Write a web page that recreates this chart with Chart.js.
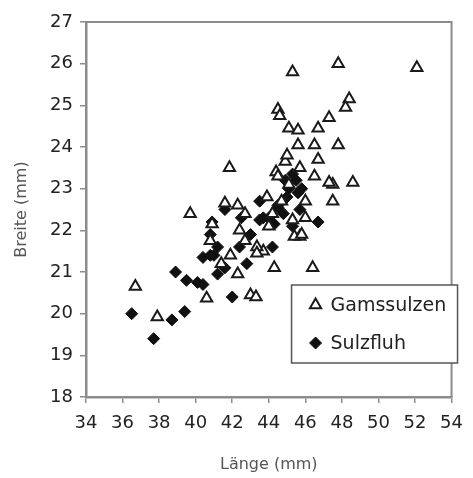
<!DOCTYPE html>
<html>
<head>
<meta charset="utf-8">
<script src="https://cdn.jsdelivr.net/npm/chart.js@4/dist/chart.umd.min.js"></script>
<style>
  html, body { margin: 0; padding: 0; background: #fff; }
  #wrap { width: 473px; height: 478px; }
</style>
</head>
<body>
<div id="wrap"><canvas id="chart"></canvas></div>
<script>
/* ── Data ── */
const gamsX = [52.1, 47.8, 45.3, 44.5, 44.6, 48.4, 48.2, 47.3, 45.1, 45.6, 46.7, 45.6, 46.5, 47.8,
  44.9, 46.7, 45.7, 44.4, 48.6, 47.5, 47.5, 46.5, 47.3, 44.5, 45.1, 44.7, 46.0, 45.3, 45.7, 45.4,
  44.2, 43.7, 46.4, 44.3, 41.85, 39.7, 36.7, 37.9, 40.6, 43.0, 43.3, 41.6, 42.3, 42.7, 40.9, 40.8,
  42.4, 42.7, 43.35, 41.4, 42.3, 41.9, 43.35, 45.8, 46.0, 44.0, 43.9, 45.0];
const gamsY = [25.9, 26.0, 25.8, 24.9, 24.75, 25.15, 24.95, 24.7, 24.45, 24.4, 24.45, 24.05, 24.05, 24.05,
  23.65, 23.7, 23.5, 23.4, 23.15, 23.1, 22.7, 23.3, 23.15, 23.3, 23.1, 22.7, 22.7, 22.25, 21.85, 21.85,
  22.4, 21.5, 21.1, 21.1, 23.5, 22.4, 20.65, 19.92, 20.37, 20.45, 20.4, 22.65, 22.6, 22.4, 22.15, 21.75,
  22.0, 21.75, 21.6, 21.2, 20.95, 21.4, 21.45, 21.9, 22.3, 22.1, 22.8, 23.8];

const sulzX = [36.5, 37.7, 38.7, 39.4, 38.9, 39.5, 40.1, 40.4, 42.0, 40.4, 40.8, 41.0, 41.2, 41.6,
  42.8, 40.9, 40.8, 41.6, 43.5, 43.5, 42.4, 46.7, 44.2, 44.5, 45.7, 43.7, 44.0, 45.3, 45.5, 45.1,
  44.8, 45.3, 44.5, 42.5, 43.0, 41.2, 45.0, 45.6, 44.9, 45.8, 44.3];
const sulzY = [20.0, 19.4, 19.85, 20.05, 21.0, 20.8, 20.75, 20.7, 20.4, 21.35, 21.4, 21.4, 20.95, 21.1,
  21.2, 22.2, 21.9, 22.5, 22.7, 22.25, 21.6, 22.2, 21.6, 22.55, 22.5, 22.3, 22.3, 23.35, 23.2, 23.0,
  22.4, 22.1, 22.6, 22.3, 21.9, 21.6, 22.8, 22.9, 23.2, 23.0, 22.15];

const seriesNames = ['Gamssulzen', 'Sulzfluh'];
const xTitle = 'Länge (mm)';
const yTitle = 'Breite (mm)';

const toPts = (xs, ys) => xs.map((x, i) => ({ x, y: ys[i] }));

/* ── Styles ── */
const AXIS_GREY = '#8c8c8c';
const FONT = 'DejaVu Sans';

/* ── Frame: top + right border of plot area ── */
const framePlugin = {
  id: 'frame',
  beforeDatasetsDraw(chart) {
    const { ctx, chartArea: a } = chart;
    ctx.save();
    ctx.strokeStyle = AXIS_GREY;
    ctx.lineWidth = 2;
    ctx.beginPath();
    ctx.moveTo(a.left, a.top);
    ctx.lineTo(a.right, a.top);
    ctx.lineTo(a.right, a.bottom);
    ctx.stroke();
    ctx.restore();
  }
};

/* ── Boxed legend inside the plot, lower right ── */
const boxLegendPlugin = {
  id: 'boxLegend',
  afterDatasetsDraw(chart) {
    const { ctx, chartArea: a } = chart;
    const right = a.right + 6, left = right - 166;
    const top = a.top + 263, bottom = top + 78;
    ctx.save();
    ctx.fillStyle = '#fff';
    ctx.fillRect(left, top, right - left, bottom - top);
    ctx.strokeStyle = '#555';
    ctx.lineWidth = 1.5;
    ctx.strokeRect(left, top, right - left, bottom - top);
    chart.data.datasets.forEach((ds, i) => {
      const y = top + 20 + i * 38;
      ctx.fillStyle = ds.backgroundColor;
      ctx.strokeStyle = ds.borderColor;
      ctx.lineWidth = ds.borderWidth;
      Chart.helpers.drawPoint(ctx, {
        pointStyle: ds.pointStyle, radius: ds.pointRadius, borderWidth: ds.borderWidth, rotation: 0
      }, left + 24, y);
      ctx.fillStyle = '#222';
      ctx.font = `19px "${FONT}"`;
      ctx.textBaseline = 'middle';
      ctx.textAlign = 'left';
      ctx.fillText(ds.label, left + 39, y + 1);
    });
    ctx.restore();
  }
};

new Chart(document.getElementById('chart'), {
  type: 'scatter',
  data: {
    datasets: [
      {
        label: seriesNames[0], data: toPts(gamsX, gamsY),
        pointStyle: 'triangle', pointRadius: 6.5, borderWidth: 2,
        backgroundColor: '#fff', borderColor: '#1a1a1a'
      },
      {
        label: seriesNames[1], data: toPts(sulzX, sulzY),
        pointStyle: 'rectRot', pointRadius: 6, borderWidth: 1,
        backgroundColor: '#111', borderColor: '#111'
      }
    ]
  },
  options: {
    responsive: true, maintainAspectRatio: false, animation: false,
    layout: { padding: { top: 22, right: 15, left: 0, bottom: 0 } },
    plugins: { legend: { display: false }, tooltip: { enabled: false } },
    scales: {
      x: {
        type: 'linear', min: 34, max: 54,
        afterFit: s => { s.height = 81; },
        ticks: { stepSize: 2, color: '#222', font: { family: FONT, size: 18 }, padding: 10 },
        grid: { drawOnChartArea: false, drawTicks: true, tickLength: 6, color: AXIS_GREY, lineWidth: 1.5 },
        border: { color: AXIS_GREY, width: 2.5 },
        title: { display: true, text: xTitle, color: '#555', font: { family: FONT, size: 16 }, padding: { top: 4 } }
      },
      y: {
        type: 'linear', min: 18, max: 27,
        afterFit: s => { s.width = 86; },
        ticks: { stepSize: 1, color: '#222', font: { family: FONT, size: 18 }, padding: 7 },
        grid: { drawOnChartArea: false, drawTicks: true, tickLength: 6, color: AXIS_GREY, lineWidth: 1.5 },
        border: { color: AXIS_GREY, width: 2.5 },
        title: { display: true, text: yTitle, color: '#555', font: { family: FONT, size: 16 }, padding: { top: 12, bottom: 0 } }
      }
    }
  },
  plugins: [framePlugin, boxLegendPlugin]
});
</script>
</body>
</html>
